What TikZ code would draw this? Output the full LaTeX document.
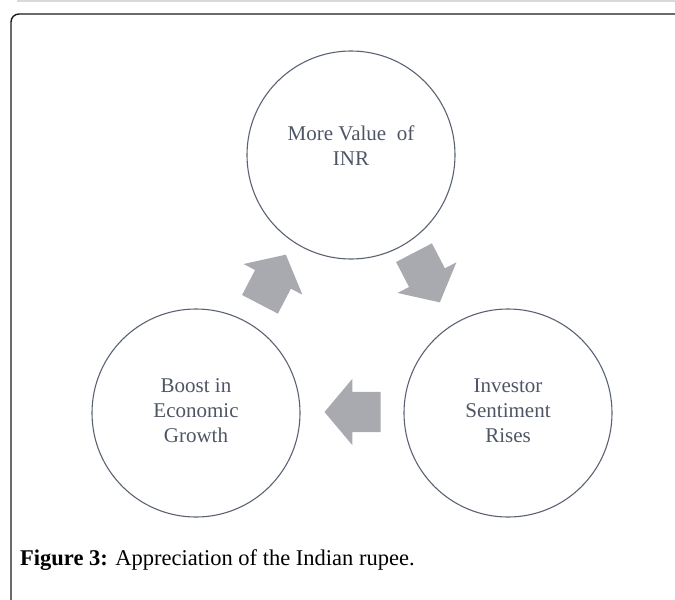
\documentclass[tikz,border=0pt]{standalone}
\usepackage{fontspec}
\setmainfont{Liberation Serif}
\usepackage{xcolor}
\usetikzlibrary{positioning, shapes.arrows}
\definecolor{ring}{HTML}{5A6272}
\definecolor{ringText}{HTML}{4E5666}
\definecolor{blockArrow}{HTML}{A9A9B0}
\definecolor{topRule}{HTML}{D9D9D9}
\definecolor{frameBorder}{HTML}{1A1A1A}

\tikzset{
  cyclenode/.style={circle, draw=ring, line width=1.1pt, minimum size=208pt, inner sep=0pt},
  cycletext/.style={text=ringText, align=center, font=\fontsize{21}{25}\selectfont},
  cyclearrow/.style={single arrow, fill=blockArrow, draw=none, inner xsep=0pt, inner ysep=20pt,
    minimum height=56pt, single arrow head extend=13pt,
    single arrow tip angle=100}
}

\begin{document}
\begin{tikzpicture}[x=1pt, y=-1pt]
  \useasboundingbox (0,0) rectangle (675,600);
  \clip (0,0) rectangle (675,600);
  \fill[topRule] (17,0) rectangle (675,2);
  \draw[frameBorder, line width=1.4pt, rounded corners=8pt] (11,640) -- (11,14) -- (700,14);

  % the three stages
  \node[cyclenode] (inr) at (351,155) {};
  \node[cyclenode] (growth) at (196,413) {};
  \node[cyclenode] (investor) at (508,413) {};
  \node[cycletext] (inrText) at (351,146) {More Value\ \ of\\INR};
  \node[cycletext] (growthText) at (196,411) {Boost in\\Economic\\Growth};
  \node[cycletext] (investorText) at (508,411) {Investor\\Sentiment\\Rises};

  % block arrows between them
  \node[cyclearrow, rotate=-62.5] (toInvestor) at (423,270) {};
  \node[cyclearrow, rotate=180] (toGrowth) at (361,412) {};
  \node[cyclearrow, rotate=62.5] (toInr) at (269,287) {};

  \node[anchor=base west, inner sep=0pt, font=\fontsize{22.5}{26}\selectfont] (caption) at (20,565)
    {\textbf{Figure 3:} Appreciation of the Indian rupee.};
\end{tikzpicture}
\end{document}
